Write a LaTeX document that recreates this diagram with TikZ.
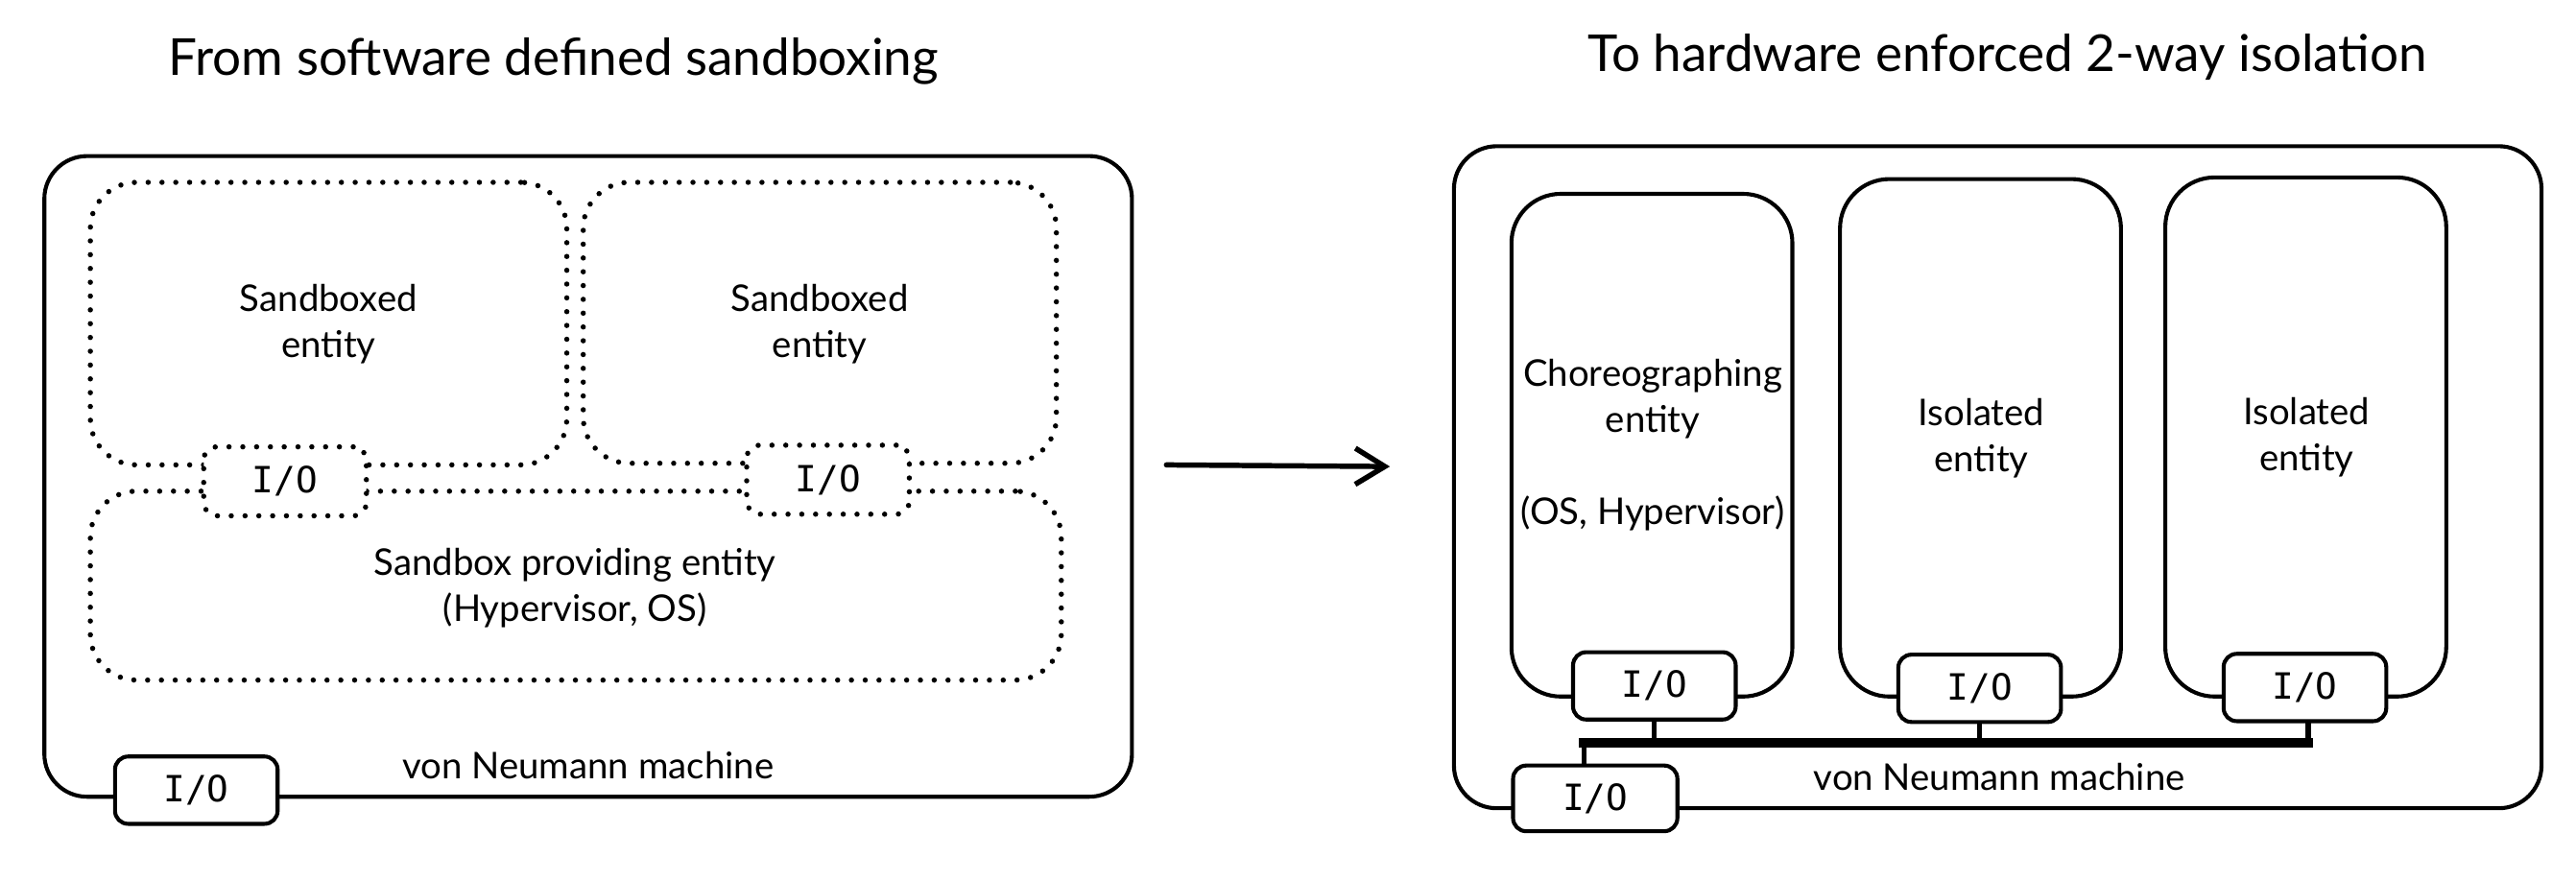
\documentclass[tikz,border=0pt]{standalone}
\usepackage{fontspec}
\setmainfont{Lato}
\newfontfamily\iofont{DejaVu Sans Mono}
\usetikzlibrary{arrows.meta}
\begin{document}
\begin{tikzpicture}[x=0.5pt,y=-0.5pt,
  every node/.style={inner sep=0pt, outer sep=0pt},
  solidbox/.style={draw, line width=1.2pt, rounded corners=#1, fill=white},
  solidbox/.default=13pt,
  dotbox/.style={draw, line width=1.6pt, dash pattern=on 0pt off 4.2pt, line cap=round, rounded corners=#1},
  dotbox/.default=13pt,
  iobox/.style={draw, line width=1.2pt, rounded corners=4pt, fill=white, minimum width=49.5pt, minimum height=20.5pt, font=\iofont\fontsize{11}{13}\selectfont},
  iodot/.style={dotbox=4pt, fill=white, minimum width=49.5pt, minimum height=21pt, font=\iofont\fontsize{11}{13}\selectfont},
  lbl/.style={align=center, font=\fontsize{11.2}{14}\selectfont},
  ttl/.style={font=\fontsize{15.5}{18}\selectfont},
  wire/.style={line width=1.5pt},
  buswire/.style={line width=2.8pt}
]
\useasboundingbox (0,0) rectangle (1568,536);
% titles
\node[ttl] (t1) at (337,37) {From software defined sandboxing};
\node[ttl] (t2) at (1222,35) {To hardware enforced 2-way isolation};
% ---------- left ----------
\node[solidbox=13pt, fill=none, minimum width=331pt, minimum height=195pt] (outerL) at (358,290) {};
\node[dotbox=14pt, minimum width=145pt, minimum height=86pt] (sb1) at (200,197) {};
\node[dotbox=14pt, minimum width=144pt, minimum height=85.5pt] (sb2) at (499,196.5) {};
\node[dotbox=14pt, minimum width=295.5pt, minimum height=57.5pt] (prov) at (350.5,356.5) {};
\node[iodot] (iod1) at (173.5,293) {I/O};
\node[iodot] (iod2) at (504,292) {I/O};
\node[lbl] (sb1t) at (200,197) {Sandboxed\\entity};
\node[lbl] (sb2t) at (499,197) {Sandboxed\\entity};
\node[lbl] (provt) at (350,358) {Sandbox providing entity\\(Hypervisor, OS)};
\node[iobox] (ioL) at (119.5,481) {I/O};
\node[lbl] (vnL) at (358,466) {von Neumann machine};
% ---------- arrow ----------
\coordinate (a1) at (710,283);
\coordinate (a2) at (846,284);
\draw[line width=1.6pt, line cap=round, -{Straight Barb[length=9pt,width=11pt,line width=1.6pt]}] (a1) -- (a2);
% ---------- right ----------
\node[solidbox=13pt, fill=none, minimum width=331pt, minimum height=201.5pt] (outerR) at (1216,290.5) {};
\node[solidbox=15pt, fill=none, minimum width=85.5pt, minimum height=153pt] (ch) at (1005.5,271) {};
\node[solidbox=15pt, fill=none, minimum width=85.5pt, minimum height=157.5pt] (is1) at (1205.5,266.5) {};
\node[solidbox=15pt, fill=none, minimum width=85.5pt, minimum height=158pt] (is2) at (1403.5,266) {};
\node[lbl] (cht) at (1006,271) {Choreographing\\entity\\[14pt](OS, Hypervisor)};
\node[lbl] (is1t) at (1206,267) {Isolated\\entity};
\node[lbl] (is2t) at (1404,266) {Isolated\\entity};
\node[iobox] (io1) at (1007,417.5) {I/O};
\node[iobox] (io2) at (1205,419) {I/O};
\node[iobox] (io3) at (1403,418.5) {I/O};
\node[iobox, minimum width=50pt, minimum height=20pt] (ioB) at (971,486) {I/O};
\node[lbl] (vnR) at (1217,473) {von Neumann machine};
% bus
\coordinate (busL) at (964,452);
\coordinate (busR) at (1405,452);
\draw[wire] (io1.south) -- (io1.south |- busL);
\draw[wire] (io2.south) -- (io2.south |- busL);
\draw[wire] (io3.south -| busR) -- (busR);
\draw[wire] (busL) -- (busL |- ioB.north);
\draw[buswire, line cap=rect] (busL) -- (busR);
\end{tikzpicture}
\end{document}
